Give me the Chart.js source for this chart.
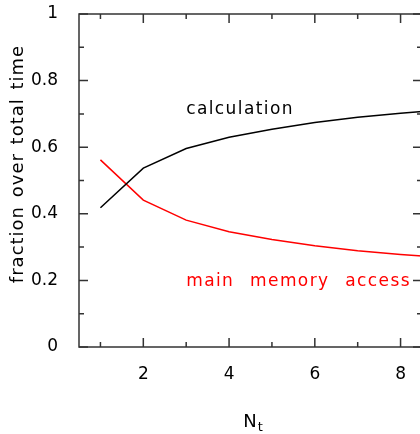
<!DOCTYPE html>
<html>
<head>
<meta charset="utf-8">
<script src="https://cdn.jsdelivr.net/npm/chart.js@4/dist/chart.umd.min.js"></script>
<style>
  html, body { margin: 0; padding: 0; background: #fff; overflow: hidden; }
  #wrap { width: 422px; height: 434px; }
</style>
</head>
<body>
<div id="wrap"><canvas id="fig"></canvas></div>
<script>
// data
const nt = [1, 2, 3, 4, 5, 6, 7, 8, 9];
const calculation = [0.418, 0.537, 0.596, 0.630, 0.654, 0.674, 0.690, 0.702, 0.712];
const memoryAccess = [0.562, 0.441, 0.381, 0.346, 0.323, 0.304, 0.289, 0.278, 0.268];

const xMajor = [2, 4, 6, 8];
const xMinor = [1, 3, 5, 7];
const yMajor = [0, 0.2, 0.4, 0.6, 0.8, 1];
const yMinor = [0.1, 0.3, 0.5, 0.7, 0.9];

const FONT = 'DejaVu Sans';
const AXIS = '#333';

// frame with inward ticks on all four sides, curve labels, axis titles
const framePlugin = {
  id: 'frame',
  afterDraw(chart) {
    const ctx = chart.ctx;
    const a = chart.chartArea;
    const xs = chart.scales.x, ys = chart.scales.y;
    ctx.save();
    ctx.strokeStyle = AXIS;
    ctx.lineWidth = 1.5;
    ctx.strokeRect(a.left, a.top, a.right - a.left, a.bottom - a.top);
    ctx.beginPath();
    const tickX = (vals, len) => vals.forEach(v => {
      const px = xs.getPixelForValue(v);
      ctx.moveTo(px, a.bottom); ctx.lineTo(px, a.bottom - len);
      ctx.moveTo(px, a.top); ctx.lineTo(px, a.top + len);
    });
    const tickY = (vals, len) => vals.forEach(v => {
      const py = ys.getPixelForValue(v);
      ctx.moveTo(a.left, py); ctx.lineTo(a.left + len, py);
      ctx.moveTo(a.right, py); ctx.lineTo(a.right - len, py);
    });
    tickX(xMajor, 9); tickX(xMinor, 5);
    tickY(yMajor, 9); tickY(yMinor, 5);
    ctx.stroke();

    // curve labels
    ctx.font = '17px "' + FONT + '"';
    ctx.letterSpacing = '1.4px';
    ctx.wordSpacing = '9px';
    ctx.textBaseline = 'middle';
    ctx.textAlign = 'left';
    ctx.fillStyle = '#000';
    ctx.fillText('calculation', xs.getPixelForValue(3), ys.getPixelForValue(0.712));
    ctx.fillStyle = '#ff0000';
    ctx.fillText('main memory access', xs.getPixelForValue(3), ys.getPixelForValue(0.196));

    // y axis title
    ctx.fillStyle = '#000';
    ctx.font = '18px "' + FONT + '"';
    ctx.letterSpacing = '1px';
    ctx.wordSpacing = '2px';
    ctx.save();
    ctx.translate(18, 164);
    ctx.rotate(-Math.PI / 2);
    ctx.textAlign = 'center';
    ctx.fillText('fraction over total time', 0, 0);
    ctx.restore();

    // x axis title N_t
    ctx.letterSpacing = '0px';
    ctx.wordSpacing = '0px';
    ctx.textAlign = 'left';
    ctx.textBaseline = 'alphabetic';
    ctx.font = '18px "' + FONT + '"';
    const nW = ctx.measureText('N').width;
    ctx.font = '13px "' + FONT + '"';
    const tW = ctx.measureText('t').width;
    const cx = (a.left + a.right) / 2 + 2;
    const x0 = cx - (nW + tW) / 2;
    ctx.font = '18px "' + FONT + '"';
    ctx.fillText('N', x0, 427);
    ctx.font = '13px "' + FONT + '"';
    ctx.fillText('t', x0 + nW + 1, 431);
    ctx.restore();
  }
};

new Chart(document.getElementById('fig'), {
  type: 'scatter',
  data: {
    datasets: [
      {
        label: 'calculation',
        data: nt.map((x, i) => ({ x: x, y: calculation[i] })),
        borderColor: '#000',
        borderWidth: 1.5,
        showLine: true,
        pointRadius: 0,
        tension: 0
      },
      {
        label: 'main memory access',
        data: nt.map((x, i) => ({ x: x, y: memoryAccess[i] })),
        borderColor: '#ff0000',
        borderWidth: 1.5,
        showLine: true,
        pointRadius: 0,
        tension: 0
      }
    ]
  },
  options: {
    responsive: true,
    maintainAspectRatio: false,
    animation: false,
    layout: { padding: { top: 14, right: 0, left: 0, bottom: 0 } },
    plugins: { legend: { display: false }, tooltip: { enabled: false } },
    scales: {
      x: {
        type: 'linear',
        min: 0.5,
        max: 8.5,
        border: { display: false },
        grid: { display: false },
        afterBuildTicks: s => { s.ticks = xMajor.map(v => ({ value: v })); },
        afterFit: s => { s.height = 87; s.paddingLeft = 0; s.paddingRight = 0; },
        ticks: {
          padding: 9,
          color: '#000',
          font: { family: FONT, size: 17 }
        }
      },
      y: {
        type: 'linear',
        min: 0,
        max: 1,
        border: { display: false },
        grid: { display: false },
        afterBuildTicks: s => { s.ticks = yMajor.map(v => ({ value: v })); },
        afterFit: s => { s.width = 79; s.paddingTop = 0; s.paddingBottom = 0; },
        ticks: {
          padding: 13,
          color: '#000',
          font: { family: FONT, size: 17 },
          callback: v => String(v)
        }
      }
    }
  },
  plugins: [framePlugin]
});
</script>
</body>
</html>
